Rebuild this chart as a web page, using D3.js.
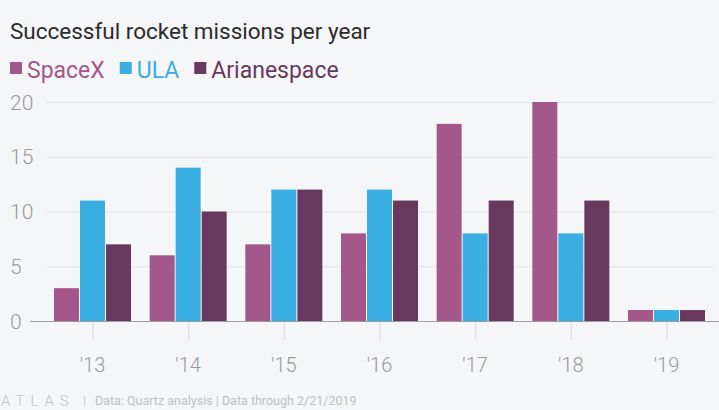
<!DOCTYPE html>
<html>
<head>
<meta charset="utf-8">
<script src="https://cdn.jsdelivr.net/npm/d3@7"></script>
<style>
  html, body { margin: 0; padding: 0; background: #f4f6f7; }
  svg { display: block; }
  text { font-family: Roboto, "Noto Sans", sans-serif; }
</style>
</head>
<body>
<svg id="chart" width="719" height="410"></svg>
<script>
const years = ["'13", "'14", "'15", "'16", "'17", "'18", "'19"];
const seriesNames = ["SpaceX", "ULA", "Arianespace"];
const spacex = [3, 6, 7, 8, 18, 20, 1];
const ula = [11, 14, 12, 12, 8, 8, 1];
const arianespace = [7, 10, 12, 11, 11, 11, 1];
const yTicks = [0, 5, 10, 15, 20];
const colors = ["#a4578a", "#3aaee3", "#69385e"];

const seriesValues = [spacex, ula, arianespace];
const data = years.map((y, i) => ({
  year: y,
  values: seriesNames.map((s, j) => ({ key: s, value: seriesValues[j][i] }))
}));

const svg = d3.select("#chart");
svg.append("rect").attr("width", 719).attr("height", 410).attr("fill", "#f4f6f7");

const y = d3.scaleLinear().domain([0, 20]).range([321, 102]);
const x0 = d3.scaleBand().domain(years).range([54, 705]).paddingInner(0.195).paddingOuter(0);
const x1 = d3.scaleBand().domain(seriesNames).range([0, x0.bandwidth()]).paddingInner(0.04);
const color = d3.scaleOrdinal().domain(seriesNames).range(colors);

// Title
svg.append("text").attr("x", 10).attr("y", 39)
  .attr("font-size", 22.5).attr("fill", "#2b2b2b")
  .text("Successful rocket missions per year");

// Legend
let lx = 10;
const legend = svg.append("g");
seriesNames.forEach((s) => {
  legend.append("rect").attr("x", lx).attr("y", 62).attr("width", 12).attr("height", 12).attr("fill", color(s));
  const t = legend.append("text").attr("x", lx + 17).attr("y", 78)
    .attr("font-size", 23).attr("fill", color(s)).text(s);
  lx += 17 + t.node().getComputedTextLength() + 15;
});

// Gridlines
svg.append("g").selectAll("line").data(yTicks.filter(d => d > 0)).join("line")
  .attr("x1", 47).attr("x2", 713)
  .attr("y1", d => y(d) + 0.5).attr("y2", d => y(d) + 0.5)
  .attr("stroke", "#e3e5e7").attr("stroke-width", 1);

// Y labels
svg.append("g").selectAll("text").data(yTicks).join("text")
  .attr("x", 10).attr("y", d => y(d)).attr("dy", "0.36em")
  .attr("font-size", 21).attr("font-weight", 300).attr("fill", "#9a9a9a")
  .text(d => d);

// Bars
svg.append("g").selectAll("g").data(data).join("g")
  .attr("transform", d => `translate(${x0(d.year)},0)`)
  .selectAll("rect").data(d => d.values).join("rect")
  .attr("x", d => x1(d.key))
  .attr("width", x1.bandwidth())
  .attr("y", d => y(d.value))
  .attr("height", d => y(0) - y(d.value))
  .attr("fill", d => color(d.key));

// Baseline
svg.append("line").attr("x1", 30).attr("x2", 719)
  .attr("y1", y(0) + 0.5).attr("y2", y(0) + 0.5)
  .attr("stroke", "#9c9c9c").attr("stroke-width", 1);

// X ticks and labels
const xg = svg.append("g");
xg.selectAll("line").data(years).join("line")
  .attr("x1", d => x0(d) + x0.bandwidth() / 2 + 0.5).attr("x2", d => x0(d) + x0.bandwidth() / 2 + 0.5)
  .attr("y1", 322).attr("y2", 340)
  .attr("stroke", "#dcdcdc");
xg.selectAll("text").data(years).join("text")
  .attr("x", d => x0(d) + x0.bandwidth() / 2).attr("y", 372)
  .attr("text-anchor", "middle")
  .attr("font-size", 20).attr("font-weight", 300).attr("fill", "#9a9a9a")
  .text(d => d);

// Footer
svg.append("text").attr("x", 1).attr("y", 406)
  .attr("font-size", 15).attr("font-weight", 300).attr("fill", "#c4c4c4")
  .attr("letter-spacing", 6).text("ATLAS");
svg.append("text").attr("x", 83).attr("y", 405)
  .attr("font-size", 13).attr("font-weight", 300).attr("fill", "#c4c4c4").text("|");
svg.append("text").attr("x", 95).attr("y", 405)
  .attr("font-size", 12.5).attr("fill", "#c0c0c0")
  .text("Data: Quartz analysis | Data through 2/21/2019");
</script>
</body>
</html>
